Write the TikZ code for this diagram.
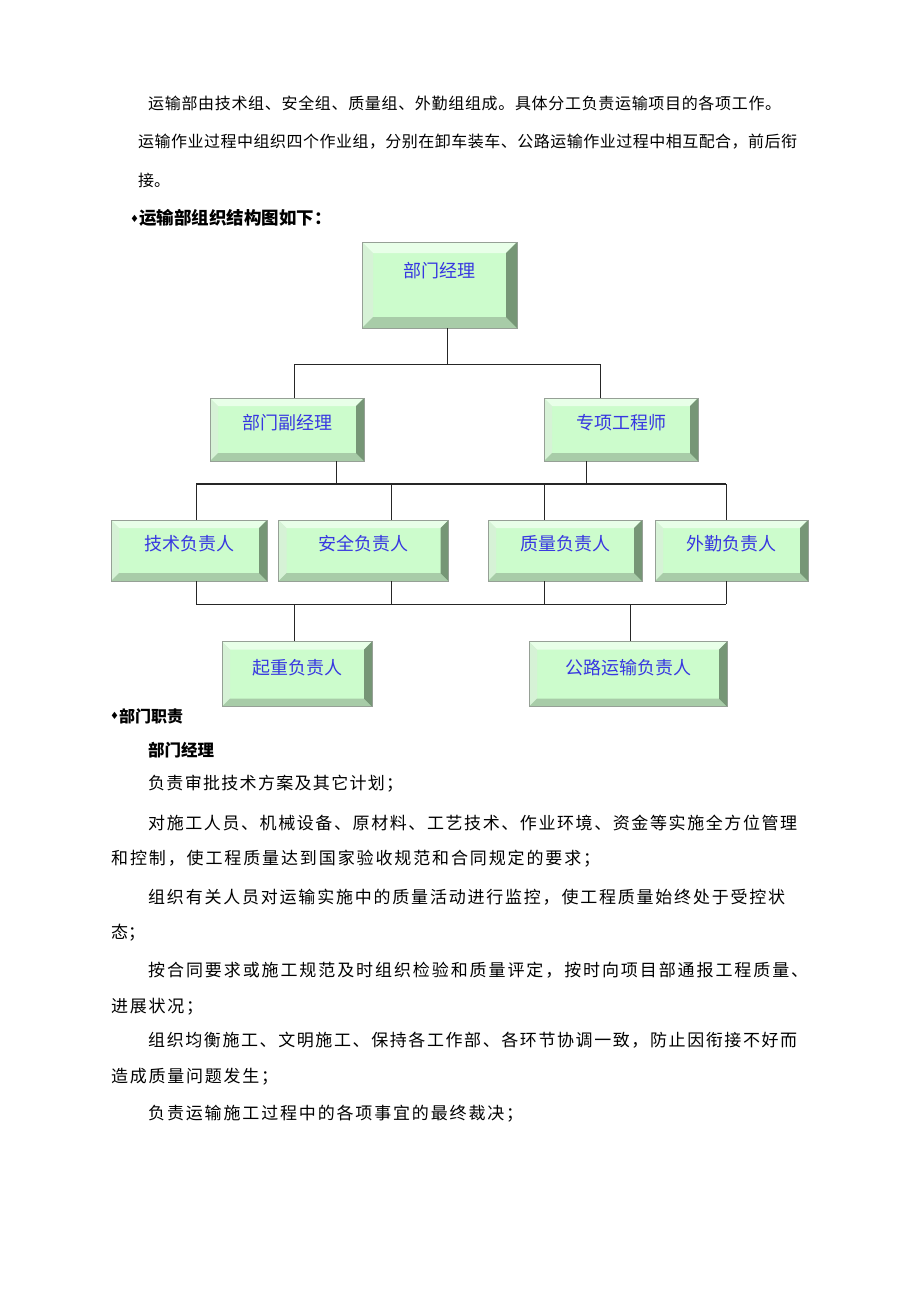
\documentclass[tikz,border=0pt]{standalone}
\usepackage{fontspec}
\setmainfont{Noto Sans CJK SC}
\newfontfamily\symfont{DejaVu Sans}

\definecolor{boxface}{RGB}{204,252,204}
\definecolor{boxedge}{RGB}{150,160,150}
\definecolor{bevtop}{RGB}{232,255,232}
\definecolor{bevleft}{RGB}{214,242,214}
\definecolor{bevbottom}{RGB}{168,204,168}
\definecolor{bevright}{RGB}{118,150,118}
\definecolor{boxtext}{RGB}{55,55,225}

\tikzset{
  orgbox/.style={rectangle, draw=boxedge, fill=boxface, text=boxtext, inner sep=0pt,
    font=\fontsize{18}{18}\selectfont, text height=12pt, text depth=12pt,
    path picture={
      \fill[bevtop] (path picture bounding box.north west) -- (path picture bounding box.north east)
        -- ([xshift=-#1,yshift=-#1]path picture bounding box.north east)
        -- ([xshift=#1,yshift=-#1]path picture bounding box.north west) -- cycle;
      \fill[bevleft] (path picture bounding box.north west) -- ([xshift=#1,yshift=-#1]path picture bounding box.north west)
        -- ([xshift=#1,yshift=#1]path picture bounding box.south west) -- (path picture bounding box.south west) -- cycle;
      \fill[bevbottom] (path picture bounding box.south west) -- ([xshift=#1,yshift=#1]path picture bounding box.south west)
        -- ([xshift=-#1,yshift=#1]path picture bounding box.south east) -- (path picture bounding box.south east) -- cycle;
      \fill[bevright] (path picture bounding box.south east) -- ([xshift=-#1,yshift=#1]path picture bounding box.south east)
        -- ([xshift=-#1,yshift=-#1]path picture bounding box.north east) -- (path picture bounding box.north east) -- cycle;
    }},
  orgbox/.default=8pt,
  link/.style={line width=1pt, draw=black!85},
  bodyline/.style={anchor=west, inner sep=0pt, font=\fontsize{17}{17}\selectfont},
  headline/.style={anchor=west, inner sep=0pt, font=\bfseries\fontsize{17.5}{17.5}\selectfont},
}

\newcommand{\suitmark}{\raisebox{2.5pt}{\symfont\fontsize{10}{10}\selectfont ♦}}
\ExplSyntaxOn
\NewDocumentCommand \spacedline { m m }
  { \hbox to #1 { \tl_map_inline:nn {#2} { ##1 \hfil } \unskip } }
\ExplSyntaxOff

\begin{document}
\begin{tikzpicture}[x=1pt, y=-1pt]
  \useasboundingbox (0,0) rectangle (920,1302);

  \node (t1) at (148,103) [bodyline, font=\fontsize{16}{16}\selectfont] {\spacedline{633pt}{运输部由技术组、安全组、质量组、外勤组组成。具体分工负责运输项目的各项工作。}};
  \node (t2) at (138,142) [bodyline, font=\fontsize{16}{16}\selectfont] {\spacedline{659pt}{运输作业过程中组织四个作业组，分别在卸车装车、公路运输作业过程中相互配合，前后衔}};
  \node (t3) at (138,180) [bodyline, font=\fontsize{16}{16}\selectfont] {接。};
  \node (h1) at (130,218) [headline] {\suitmark 运输部组织结构图如下：};

  \node (mgr) at (439.5,285) [orgbox=11pt, minimum width=155pt, minimum height=86pt, text height=12pt, text depth=28pt] {部门经理};
  \node (vice) at (287,429.5) [orgbox, minimum width=154pt, minimum height=63pt] {部门副经理};
  \node (eng) at (621,429.5) [orgbox, minimum width=154pt, minimum height=63pt] {专项工程师};
  \node (tech) at (189,550.5) [orgbox, minimum width=156pt, minimum height=61pt] {技术负责人};
  \node (safe) at (363.5,550.5) [orgbox, minimum width=170pt, minimum height=61pt] {安全负责人};
  \node (qual) at (565,550.5) [orgbox, minimum width=154pt, minimum height=61pt] {质量负责人};
  \node (field) at (731.5,550.5) [orgbox, minimum width=153pt, minimum height=61pt] {外勤负责人};
  \node (lift) at (297,674) [orgbox, minimum width=150pt, minimum height=65pt, text height=13pt, text depth=13pt] {起重负责人};
  \node (road) at (628,674) [orgbox, minimum width=198pt, minimum height=65pt, text height=13pt, text depth=13pt] {公路运输负责人};

  \coordinate (b1l) at (294,364);
  \coordinate (b1m) at (447,364);
  \coordinate (b1r) at (600,364);
  \draw[link] (mgr.south -| b1m) -- (b1m);
  \draw[link] (vice.north -| b1l) -- (b1l) -- (b1r) -- (eng.north -| b1r);

  \coordinate (b2a) at (196,484);
  \coordinate (b2b) at (391,484);
  \coordinate (b2c) at (544,484);
  \coordinate (b2d) at (726,484);
  \coordinate (b2v) at (336,484);
  \coordinate (b2e) at (586,484);
  \draw[link, line width=2pt] (b2a) -- (b2d);
  \draw[link] (vice.south -| b2v) -- (b2v);
  \draw[link] (eng.south -| b2e) -- (b2e);
  \foreach \n/\c in {tech/b2a, safe/b2b, qual/b2c, field/b2d}
    \draw[link] (\c) -- (\n.north -| \c);

  \coordinate (b3a) at (196,604);
  \coordinate (b3b) at (391,604);
  \coordinate (b3c) at (544,604);
  \coordinate (b3d) at (726,604);
  \coordinate (b3l) at (294,604);
  \coordinate (b3r) at (630,604);
  \foreach \n/\c in {tech/b3a, safe/b3b, qual/b3c, field/b3d}
    \draw[link] (\n.south -| \c) -- (\c);
  \draw[link] (b3a) -- (b3d);
  \draw[link] (b3l) -- (lift.north -| b3l);
  \draw[link] (b3r) -- (road.north -| b3r);

  \node (h2) at (110,716) [headline, font=\bfseries\fontsize{16}{16}\selectfont] {\suitmark 部门职责};
  \node (h3) at (148,750) [headline, font=\bfseries\fontsize{16.5}{16.5}\selectfont] {部门经理};
  \node (t7) at (148,784) [bodyline] {\spacedline{255pt}{负责审批技术方案及其它计划；}};
  \node (t8) at (148,823) [bodyline] {\spacedline{649pt}{对施工人员、机械设备、原材料、工艺技术、作业环境、资金等实施全方位管理}};
  \node (t9) at (111,859) [bodyline] {\spacedline{489pt}{和控制，使工程质量达到国家验收规范和合同规定的要求；}};
  \node (t10) at (148,897) [bodyline] {\spacedline{637pt}{组织有关人员对运输实施中的质量活动进行监控，使工程质量始终处于受控状}};
  \node (t11) at (111,933) [bodyline] {态；};
  \node (t12) at (148,970) [bodyline] {\spacedline{660pt}{按合同要求或施工规范及时组织检验和质量评定，按时向项目部通报工程质量、}};
  \node (t13) at (111,1007) [bodyline] {\spacedline{92pt}{进展状况；}};
  \node (t14) at (148,1040) [bodyline] {\spacedline{649pt}{组织均衡施工、文明施工、保持各工作部、各环节协调一致，防止因衔接不好而}};
  \node (t15) at (111,1077) [bodyline] {\spacedline{167pt}{造成质量问题发生；}};
  \node (t16) at (148,1114) [bodyline] {\spacedline{375pt}{负责运输施工过程中的各项事宜的最终裁决；}};
\end{tikzpicture}
\end{document}
